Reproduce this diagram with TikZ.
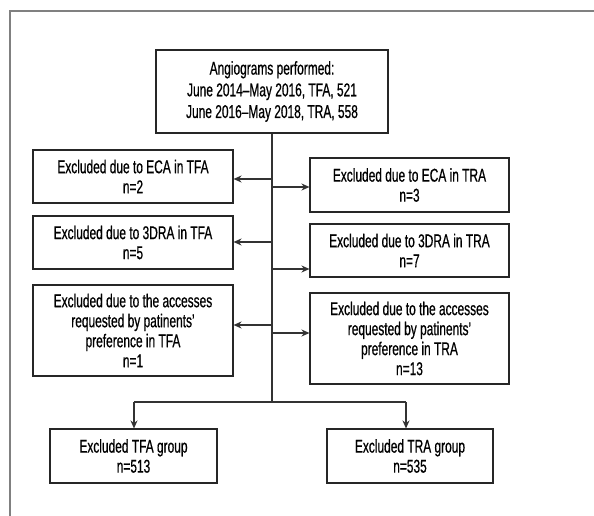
\documentclass[tikz,border=0pt]{standalone}
\usepackage{fontspec}
\setmainfont{Liberation Sans}[FakeStretch=0.645,FakeBold=0.6]
\usetikzlibrary{arrows.meta}
\begin{document}
\begin{tikzpicture}[x=1pt,y=-1pt,
  box/.style={draw=black!85,line width=1.1pt,align=center,font=\fontsize{18.5}{20}\selectfont,inner sep=0pt},
  conn/.style={draw=black!80,line width=1.1pt},
  arr/.style={conn,-{Stealth[length=8pt,width=7pt]}}]
\useasboundingbox (0,0) rectangle (594,516);
\fill[white] (0,0) rectangle (594,516);
\draw[black!50,line width=1.3pt] (10,516) -- (10,11) -- (594,11);
% boxes
\node[box,font=\fontsize{18.5}{21.7}\selectfont,minimum width=232pt,minimum height=83pt] (top) at (272,91.5) {Angiograms performed:\\June 2014–May 2016, TFA, 521\\June 2016–May 2018, TRA, 558};
\node[box,minimum width=200pt,minimum height=53pt] (l1) at (133,176.5) {Excluded due to ECA in TFA\\n=2};
\node[box,minimum width=199pt,minimum height=54pt] (r1) at (409.5,185) {Excluded due to ECA in TRA\\n=3};
\node[box,minimum width=200pt,minimum height=53pt] (l2) at (133,242.5) {Excluded due to 3DRA in TFA\\n=5};
\node[box,minimum width=199pt,minimum height=53pt] (r2) at (409.5,250.5) {Excluded due to 3DRA in TRA\\n=7};
\node[box,minimum width=200pt,minimum height=91pt] (l3) at (133,330.5) {Excluded due to the accesses\\requested by patinents’\\preference in TFA\\n=1};
\node[box,minimum width=199pt,minimum height=91pt] (r3) at (409.5,338.5) {Excluded due to the accesses\\requested by patinents’\\preference in TRA\\n=13};
\node[box,minimum width=167pt,minimum height=54pt] (b1) at (133.5,456) {Excluded TFA group\\n=513};
\node[box,minimum width=166pt,minimum height=54pt] (b2) at (410,456) {Excluded TRA group\\n=535};
% connectors
\coordinate (j) at (272,402);
\coordinate (jl) at (134,402);
\coordinate (jr) at (406,402);
\draw[conn] (top.south) -- (j);
\draw[conn] (jl) -- (jr);
\draw[arr] (272,179) -- (l1.east|-272,179);
\draw[arr] (272,187) -- (r1.west|-272,187);
\draw[arr] (272,242) -- (l2.east|-272,242);
\draw[arr] (272,269) -- (r2.west|-272,269);
\draw[arr] (272,325) -- (l3.east|-272,325);
\draw[arr] (272,333) -- (r3.west|-272,333);
\draw[arr] (jl) -- (jl|-b1.north);
\draw[arr] (jr) -- (jr|-b2.north);
\end{tikzpicture}
\end{document}
